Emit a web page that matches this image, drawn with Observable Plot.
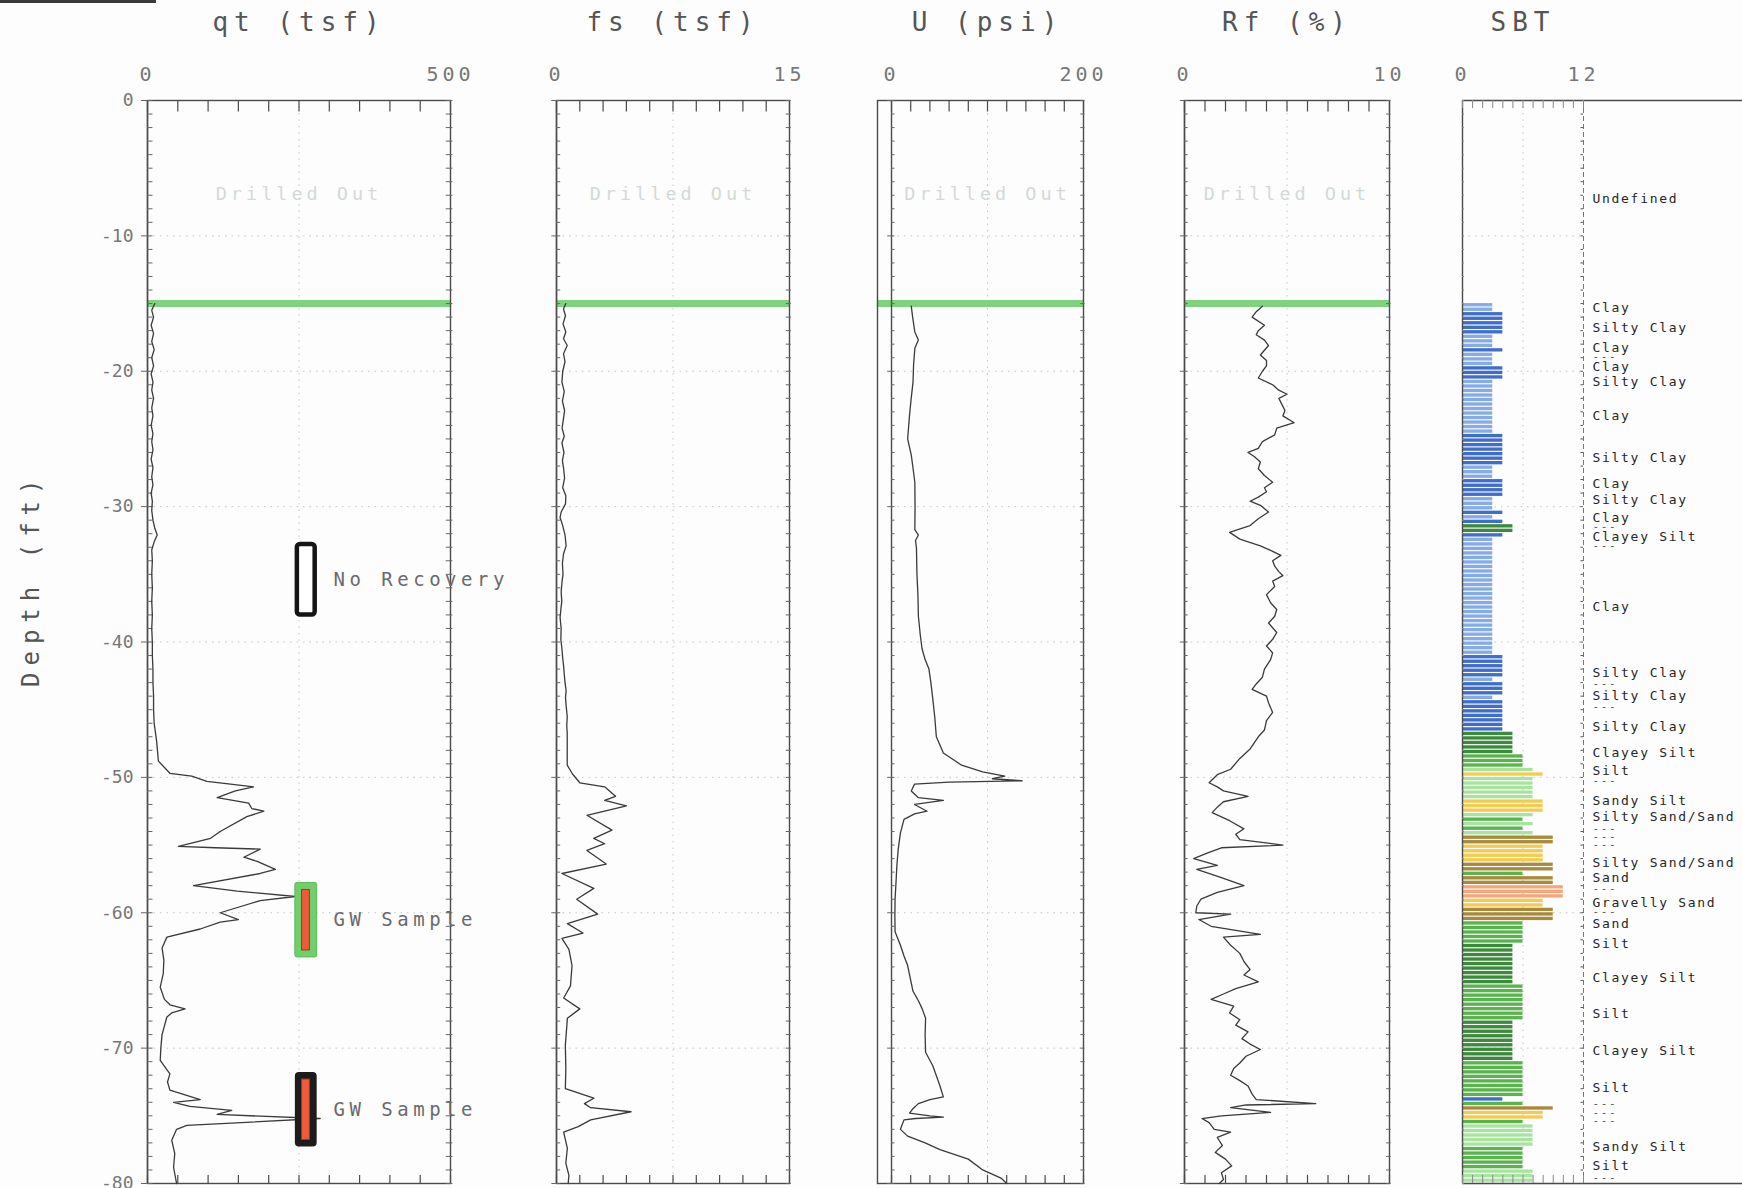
<!DOCTYPE html>
<html>
<head>
<meta charset="utf-8">
<script src="https://cdn.jsdelivr.net/npm/d3@7"></script>
<script src="https://cdn.jsdelivr.net/npm/@observablehq/plot@0.6"></script>
<style>
html,body{margin:0;padding:0;overflow:hidden;background:#fdfdfd;}
#chart{position:relative;width:1742px;height:1188px;overflow:hidden;background:#fdfdfd;}
#chart svg{position:absolute;left:0;top:0;}
#corner{position:absolute;left:0;top:0;width:156px;height:3px;background:#3a3a3a;}
</style>
</head>
<body>
<div id="chart"><div id="corner"></div></div>
<script>
// ---------------- DATA ----------------
// [depth (ft), value]
const qtProfile = [
  [-15,12],[-15.5,7],[-16,10],[-16.6,6],[-17.2,10],[-17.8,7],[-18.4,11],[-19,7],[-19.6,10],[-20.2,6],
  [-20.8,9],[-21.4,7],[-22,10],[-22.7,7],[-23.3,9],[-24,6],[-24.6,9],[-25.2,7],[-25.8,9],[-26.5,6],
  [-27.1,9],[-27.8,7],[-28.4,9],[-29,6],[-29.6,8],[-30.3,7],[-31,9],[-31.6,12],[-32.1,16],[-32.6,11],
  [-33.2,7],[-34,8],[-35,7],[-36,8],[-37,7],[-38,8],[-39,7],[-40,8],[-41,8],[-42,9],[-43,9],[-44,10],
  [-45,10],[-46,11],[-47.3,15],[-48.8,18],[-49.7,37],[-49.9,73],[-50.3,98],[-50.5,137],[-50.7,175],
  [-51.0,145],[-51.5,115],[-51.9,167],[-52.3,172],[-52.5,192],[-52.9,164],[-54.0,120],[-54.5,104],
  [-55.1,51],[-55.2,112],[-55.3,186],[-55.9,159],[-56.2,181],[-56.8,211],[-57.1,186],[-58.0,76],
  [-58.4,148],[-58.8,244],[-59.1,186],[-60.0,120],[-60.5,150],[-60.7,120],[-61.2,87],[-61.8,32],
  [-62.6,24],[-63.5,27],[-64.5,26],[-65.5,21],[-66.4,28],[-66.8,37],[-67.1,62],[-67.4,40],[-67.7,32],
  [-69.0,24],[-70.0,22],[-70.9,21],[-71.9,37],[-72.5,33],[-73.1,37],[-73.8,87],[-74.0,43],[-74.3,70],
  [-74.6,139],[-74.9,115],[-75.2,285],[-75.7,65],[-76.0,48],[-76.8,40],[-77.8,45],[-78.8,43],[-80,48]
];
const fsProfile = [
  [-15.0,0.6],[-15.4,0.45],[-15.9,0.58],[-16.5,0.42],[-17.1,0.6],[-17.6,0.45],[-18.1,0.69],[-18.7,0.45],
  [-19.3,0.55],[-20.0,0.4],[-20.8,0.35],[-21.5,0.5],[-22.2,0.38],[-22.9,0.52],[-23.5,0.45],[-24.2,0.36],
  [-24.8,0.5],[-25.3,0.35],[-26.0,0.48],[-26.6,0.38],[-27.2,0.46],[-27.9,0.52],[-28.6,0.4],[-29.2,0.6],
  [-29.8,0.58],[-30.4,0.3],[-30.8,0.23],[-31.4,0.4],[-32.1,0.55],[-32.9,0.62],[-33.5,0.45],[-34.2,0.38],
  [-35.0,0.42],[-35.6,0.35],[-36.3,0.3],[-37.0,0.34],[-37.6,0.28],[-38.2,0.23],[-39.0,0.3],[-39.8,0.28],
  [-40.5,0.35],[-41.2,0.4],[-41.8,0.46],[-42.4,0.5],[-43.0,0.55],[-43.6,0.62],[-44.1,0.58],[-44.7,0.62],
  [-45.5,0.69],[-46.2,0.66],[-46.7,0.69],[-49.1,0.69],[-49.75,1.03],[-50.4,1.5],[-50.7,3.1],[-51.4,3.8],
  [-51.7,3.1],[-52.1,4.5],[-52.8,1.96],[-53.9,3.57],[-54.5,2.4],[-54.9,3.1],[-55.4,1.96],[-56.4,3.2],
  [-57.1,0.35],[-58.2,2.4],[-59.0,1.3],[-60.1,2.65],[-60.8,0.7],[-61.5,1.7],[-61.9,0.35],[-62.7,0.8],
  [-63.9,1.0],[-65.4,0.9],[-66.3,0.46],[-67.1,1.5],[-67.8,0.7],[-69.8,0.57],[-71.5,0.6],[-73.0,0.57],
  [-73.7,2.4],[-74.1,1.8],[-74.4,2.2],[-74.7,4.8],[-75.3,2.2],[-75.8,1.4],[-76.2,0.46],[-77.4,0.7],
  [-78.5,0.6],[-79.4,0.8],[-80,0.75]
];
const uProfile = [
  [-15.2,20.6],[-16.0,22],[-17.1,24.3],[-17.7,28],[-18.3,24.3],[-19.5,23],[-20.8,22.4],[-22,20.5],
  [-23.3,18.7],[-25.0,16.8],[-26.2,20.6],[-27.2,22.5],[-28.2,24.3],[-30,24.5],[-31.7,24.3],[-32.1,28],
  [-32.5,25],[-33.1,26],[-35,26.5],[-36.5,27.5],[-38.1,28],[-39.5,30],[-40.5,31.8],[-41.3,35],[-42.0,39],
  [-43,41],[-44.2,43],[-45.5,45],[-47.0,46.7],[-48.2,54],[-49.1,73],[-49.6,95],[-49.9,118],[-50.1,105],
  [-50.25,136],[-50.35,60],[-50.5,24],[-51.0,20.6],[-51.5,28],[-51.7,54],[-52.0,24],[-52.5,37],[-52.7,24],
  [-53.1,13],[-54.1,9.3],[-55.3,7],[-56.5,5.6],[-58,4.5],[-59.0,3.7],[-60.2,3.5],[-61.4,3.7],[-62.4,9.3],
  [-63.2,13],[-63.9,16.8],[-65.0,20],[-65.8,22.4],[-66.5,28],[-67.1,32],[-67.8,35.5],[-69,35],[-70.3,35.5],
  [-71.3,43],[-72.1,47],[-72.8,50.5],[-73.6,54],[-73.8,40],[-74.1,28],[-74.5,22],[-74.8,18.7],[-75.0,40],
  [-75.1,54],[-75.2,25],[-75.3,13],[-76.0,9.3],[-76.5,16.8],[-77.0,35],[-77.5,50.5],[-78.2,80],[-79.0,95],
  [-79.6,114],[-80,120]
];
const rfProfile = [
  [-15.2,3.8],[-15.6,3.5],[-16.0,3.3],[-16.6,3.9],[-17.0,3.6],[-17.3,3.5],[-17.7,3.9],[-18.1,4.1],[-18.8,3.7],
  [-19.2,4.0],[-19.6,4.0],[-20.0,3.8],[-20.5,3.6],[-21.0,4.3],[-21.4,4.6],[-21.7,5.0],[-22.0,4.6],[-22.3,4.7],
  [-22.9,4.9],[-23.3,4.8],[-23.8,5.35],[-24.2,4.5],[-24.7,4.4],[-25.2,3.8],[-25.7,3.6],[-26.0,3.1],[-26.3,3.4],
  [-26.7,3.7],[-27.2,3.6],[-27.7,3.9],[-28.2,4.3],[-28.6,3.9],[-28.9,4.0],[-29.3,3.6],[-29.6,3.2],[-29.9,3.7],
  [-30.4,4.1],[-30.9,3.6],[-31.4,3.2],[-31.7,2.6],[-31.9,2.2],[-32.2,2.5],[-32.4,2.7],[-32.9,3.7],[-33.3,4.3],
  [-33.6,4.7],[-34.0,4.3],[-34.4,4.4],[-34.8,4.6],[-35.1,4.8],[-35.5,4.3],[-35.9,4.4],[-36.5,4.0],[-37.1,4.2],
  [-37.6,4.5],[-38.1,4.4],[-38.6,4.1],[-39.3,4.5],[-39.8,4.3],[-40.3,4.0],[-40.8,4.3],[-41.3,4.2],[-42.0,3.9],
  [-42.6,3.8],[-43.1,3.5],[-43.5,3.3],[-44.0,4.0],[-44.5,4.1],[-45.2,4.3],[-45.8,4.0],[-46.5,3.9],[-47.0,3.6],
  [-47.9,3.2],[-48.6,2.7],[-49.4,2.25],[-49.8,1.6],[-50.4,1.2],[-50.7,1.6],[-51.0,1.9],[-51.4,3.1],[-51.8,1.9],
  [-52.2,1.6],[-52.6,1.35],[-53.2,2.2],[-53.8,2.9],[-54.2,2.5],[-54.6,2.7],[-55.0,4.8],[-55.2,1.8],[-55.6,1.1],
  [-56.0,0.45],[-56.5,1.6],[-56.8,0.6],[-57.4,1.8],[-58.0,2.9],[-58.5,1.6],[-59.0,0.8],[-59.5,0.6],[-60.0,0.55],
  [-60.1,2.25],[-60.5,0.7],[-61.0,1.3],[-61.6,3.7],[-61.8,1.9],[-62.4,2.25],[-63.0,2.7],[-63.6,2.9],[-64.2,3.2],
  [-64.6,2.9],[-65.1,3.6],[-65.6,2.5],[-66.0,1.9],[-66.4,1.3],[-66.9,2.4],[-67.4,2.2],[-67.9,2.7],[-68.3,2.5],
  [-68.8,3.1],[-69.3,2.8],[-69.7,3.2],[-70.1,3.7],[-70.6,3.0],[-71.1,2.7],[-71.5,2.4],[-72.0,2.25],[-72.4,2.7],
  [-72.8,3.1],[-73.4,3.3],[-73.8,3.5],[-74.1,6.4],[-74.2,3.0],[-74.4,2.25],[-74.75,4.2],[-75.0,1.8],[-75.2,0.85],
  [-75.5,1.2],[-76.0,1.45],[-76.2,2.25],[-76.6,1.6],[-77.2,1.85],[-77.7,1.5],[-78.2,2.0],[-78.7,2.3],[-79.2,1.8],
  [-79.7,1.9],[-80,1.7]
];

// SBT zone per sample, from -15 ft downward, one sample every 1/3 ft
const sbtFirstDepth = -15;
const sbtStep = 1 / 3;
const sbtZones = [
  3,3, 4,4,4,4,4, 3,3,3, 4, 3,3,3, 4,4,4,
  3,3,3,3,3,3,3,3,3,3,3,3, 4,4,4,4,4,4,4, 3,3,3, 4,4,4,4, 3,3,3, 4, 3, 4, 5,5, 4,
  3,3,3,3,3,3,3,3,3,3,3,3,3,3,3,3,3,3,3,3,3,3,3,3,3,3,
  4,4,4,4,4, 3, 4,4,4, 3, 4,4,4,4,4,4,4,
  5,5,5,5,5, 6,6,6, 7, 8, 7,7,7,7,7, 8,8,8, 7,6,7,6,7,
  9,9, 8,8,8,8, 9,9, 6, 9,9, 10,10,10, 8,8, 9,9,9,
  6,6,6,6,6, 5,5,5,5,5,5,5,5,5, 6,6,6,6,6,6,6,6, 5,5,5,5,5,5,5,5,5, 6,6,6,6,6,6,6,6,
  4, 6, 9, 8,8, 6, 7,7,7,7,7, 6,6,6,6,6, 7,7,7
];
const zoneCodes = [3, 4, 5, 6, 7, 8, 9, 10];
const zoneColors = ["#85abe8", "#3f6dcc", "#3c8a3c", "#5ab44d", "#a8e4a0", "#f4cb52", "#a88a3c", "#f5a67c"];

const sbtLabels = [
  {depth: -7.3, name: "Undefined"},
  {depth: -15.3, name: "Clay"},
  {depth: -16.8, name: "Silty Clay"},
  {depth: -18.3, name: "Clay"},
  {depth: -19.0, name: "---"},
  {depth: -19.7, name: "Clay"},
  {depth: -20.8, name: "Silty Clay"},
  {depth: -23.3, name: "Clay"},
  {depth: -26.4, name: "Silty Clay"},
  {depth: -28.3, name: "Clay"},
  {depth: -29.5, name: "Silty Clay"},
  {depth: -30.8, name: "Clay"},
  {depth: -31.5, name: "---"},
  {depth: -32.2, name: "Clayey Silt"},
  {depth: -32.9, name: "---"},
  {depth: -37.4, name: "Clay"},
  {depth: -42.3, name: "Silty Clay"},
  {depth: -43.1, name: "---"},
  {depth: -44.0, name: "Silty Clay"},
  {depth: -44.8, name: "---"},
  {depth: -46.3, name: "Silty Clay"},
  {depth: -48.2, name: "Clayey Silt"},
  {depth: -49.5, name: "Silt"},
  {depth: -50.3, name: "---"},
  {depth: -51.7, name: "Sandy Silt"},
  {depth: -52.9, name: "Silty Sand/Sand"},
  {depth: -54.45, name: "---\n---\n---"},
  {depth: -56.3, name: "Silty Sand/Sand"},
  {depth: -57.4, name: "Sand"},
  {depth: -58.3, name: "---"},
  {depth: -59.3, name: "Gravelly Sand"},
  {depth: -60.0, name: "---"},
  {depth: -60.8, name: "Sand"},
  {depth: -62.3, name: "Silt"},
  {depth: -64.8, name: "Clayey Silt"},
  {depth: -67.5, name: "Silt"},
  {depth: -70.2, name: "Clayey Silt"},
  {depth: -72.9, name: "Silt"},
  {depth: -74.8, name: "---\n---\n---"},
  {depth: -77.3, name: "Sandy Silt"},
  {depth: -78.7, name: "Silt"},
  {depth: -79.6, name: "---"}
];

const noRecovery = [{top: -32.8, bottom: -38.0, label: "No Recovery"}];
const gwSamples = [
  {top: -57.8, bottom: -63.3, label: "GW Sample"},
  {top: -71.8, bottom: -77.3, label: "GW Sample"}
];
const predrillDepth = -15;
const depthTickLabels = [0, -10, -20, -30, -40, -50, -60, -70, -80];

// ---------------- LAYOUT ----------------
const W = 1742, H = 1188, MT = 100, MB = 5;
const FONT = "'DejaVu Sans Mono', monospace";
const FRAME = "#4a4a4a", GRID = "#c6c6c6", LINE = "#3a3a3a", GREEN = "#7fd37f";
// font sizes double as hooks for letter spacing
const FS_TITLE = 26, FS_XTICK = 20, FS_YTICK = 18, FS_DRILL = 18.5, FS_NOTE = 19, FS_DEPTH = 24, FS_SBT = 13, FS_DASH = 11;
const spacing = {[FS_TITLE]: "6px", [FS_XTICK]: "4px", [FS_YTICK]: "0px", [FS_DRILL]: "4px", [FS_NOTE]: "4.5px", [FS_DEPTH]: "7px", [FS_SBT]: "1.7px", [FS_DASH]: "1.6px"};

const footTicks = d3.range(0, -80.5, -1);
const gridDepths = d3.range(-10, -79, -10);
const fmt = d => (d < 0 ? "-" + Math.abs(d) : String(d));

function profileMarks({min, axisAt, max, step, series, title}) {
  const span = max - axisAt;
  const mid = (axisAt + max) / 2;
  const ticks = d3.range(axisAt, max + step / 2, step);
  return [
    Plot.ruleY(gridDepths, {x1: axisAt, x2: max, stroke: GRID, strokeDasharray: "1.5,5"}),
    Plot.ruleX([mid], {y1: 0, y2: -80, stroke: GRID, strokeDasharray: "1.5,5"}),
    Plot.text(["Drilled Out"], {x: mid, y: -6.9, text: d => d, fill: "#d3dad6", fontSize: FS_DRILL}),
    Plot.ruleY([predrillDepth], {x1: min, x2: max, stroke: GREEN, strokeWidth: 7}),
    Plot.frame({stroke: FRAME, strokeWidth: 1.4}),
    Plot.ruleX([axisAt], {y1: 0, y2: -80, stroke: FRAME, strokeWidth: 1.4}),
    Plot.ruleX(ticks, {y1: 0, y2: -0.85, stroke: FRAME, strokeWidth: 1.2}),
    Plot.ruleX(ticks, {y1: -80, y2: -79.4, stroke: FRAME, strokeWidth: 1.2}),
    Plot.ruleY(footTicks, {x1: axisAt, x2: axisAt + span * 0.018, stroke: "#666"}),
    Plot.ruleY(depthTickLabels, {x1: axisAt - span * 0.02, x2: axisAt, stroke: "#666"}),
    Plot.ruleY(footTicks, {x1: max - span * 0.014, x2: max + span * 0.008, stroke: "#666"}),
    Plot.line(series, {x: d => d[1], y: d => d[0], stroke: LINE, strokeWidth: 1.3}),
    Plot.axisX({anchor: "top", ticks: [axisAt, max], tickSize: 0, tickPadding: 20, fontSize: FS_XTICK, tickFormat: fmt, label: null, fill: "#777"}),
    Plot.text([title], {x: mid, frameAnchor: "top", lineAnchor: "middle", dy: -78, text: d => d, fontSize: FS_TITLE, fill: "#555"})
  ];
}

function makePlot(left, right, xDomain, marks, extra = {}) {
  return Plot.plot({
    width: W, height: H,
    marginLeft: left, marginRight: W - right, marginTop: MT, marginBottom: MB,
    x: {domain: xDomain},
    y: {domain: [-80, 0], ...(extra.yAxis ? {} : {axis: null})},
    color: extra.color,
    style: {background: "transparent", fontFamily: FONT, color: "#777", overflow: "visible"},
    marks
  });
}

const chart = document.getElementById("chart");

// qt panel
const colX1 = 244, colX2 = 280, redX1 = 255, redX2 = 268;
chart.appendChild(makePlot(147, 450, [0, 500], [
  ...profileMarks({min: 0, axisAt: 0, max: 500, step: 50, series: qtProfile, title: "qt (tsf)"}),
  Plot.rect(noRecovery, {x1: colX1, x2: colX2, y1: "top", y2: "bottom", fill: "#fff", stroke: "#151515", strokeWidth: 4.5, rx: 3, insetLeft: 2, insetRight: 2}),
  Plot.rect(gwSamples.slice(0, 1), {x1: colX1, x2: colX2, y1: "top", y2: "bottom", fill: "#6fcf6a", stroke: "#5fb85a", rx: 2}),
  Plot.rect(gwSamples.slice(1), {x1: colX1, x2: colX2, y1: "top", y2: "bottom", fill: "#1c1c1c", rx: 4}),
  Plot.rect(gwSamples, {x1: redX1, x2: redX2, y1: "top", y2: "bottom", insetTop: 7, insetBottom: 7, fill: "#ee5a3c", stroke: "#9a3a2a", strokeWidth: 1}),
  Plot.text([...noRecovery, ...gwSamples], {x: 307, y: d => (d.top + d.bottom) / 2, text: "label", textAnchor: "start", fontSize: FS_NOTE, fill: "#6a6a6a"}),
  Plot.axisY({anchor: "left", ticks: depthTickLabels, tickSize: 0, tickPadding: 14, fontSize: FS_YTICK, tickFormat: fmt, label: null, fill: "#777"}),
  Plot.text(["Depth (ft)"], {frameAnchor: "left", y: -35.4, dx: -116, rotate: -90, textAnchor: "middle", lineAnchor: "middle", text: d => d, fontSize: FS_DEPTH, fill: "#555"})
], {yAxis: true}));

// fs panel
chart.appendChild(makePlot(556, 789, [0, 15],
  profileMarks({min: 0, axisAt: 0, max: 15, step: 1.5, series: fsProfile, title: "fs (tsf)"})));

// U panel (outer frame starts a little left of the zero line)
chart.appendChild(makePlot(877, 1083, [-14.6, 200],
  profileMarks({min: -14.6, axisAt: 0, max: 200, step: 20, series: uProfile, title: "U (psi)"})));

// Rf panel
chart.appendChild(makePlot(1184, 1389, [0, 10],
  profileMarks({min: 0, axisAt: 0, max: 10, step: 1, series: rfProfile, title: "Rf (%)"})));

// SBT panel
const sbtLeft = 1462, sbtRight12 = 1583;
const sbtMax = 12 * (W - sbtLeft) / (sbtRight12 - sbtLeft);
const sbtBars = sbtZones.map((zone, i) => ({
  zone,
  top: sbtFirstDepth - i * sbtStep,
  bottom: sbtFirstDepth - (i + 0.74) * sbtStep
}));
const sbtTicks = d3.range(0, 12.5, 1);
const isDash = d => d.name.startsWith("---");
chart.appendChild(makePlot(sbtLeft, W, [0, sbtMax], [
  Plot.ruleY(gridDepths, {x1: 0, x2: 12, stroke: GRID, strokeDasharray: "1.5,5"}),
  Plot.ruleX([6], {y1: 0, y2: -80, stroke: GRID, strokeDasharray: "1.5,5"}),
  Plot.rect(sbtBars, {x1: 0, x2: "zone", y1: "top", y2: "bottom", fill: "zone", insetLeft: 1}),
  Plot.ruleY([0, -80], {x1: 0, x2: sbtMax, stroke: FRAME, strokeWidth: 1.4}),
  Plot.ruleX([0], {y1: 0, y2: -80, stroke: FRAME, strokeWidth: 1.4}),
  Plot.ruleX([12], {y1: 0, y2: -80, stroke: "#777", strokeDasharray: "5,3"}),
  Plot.ruleX(sbtTicks, {y1: 0, y2: -0.6, stroke: "#888"}),
  Plot.ruleX(sbtTicks, {y1: -80, y2: -79.4, stroke: "#888"}),
  Plot.ruleY(footTicks, {x1: 11.75, x2: 12, stroke: "#555"}),
  Plot.ruleY(footTicks, {x1: 0, x2: 0.2, stroke: "#888"}),
  Plot.text(sbtLabels.filter(d => !isDash(d)), {x: 12, dx: 9, y: "depth", text: "name", textAnchor: "start", fontSize: FS_SBT, fill: "#262626"}),
  Plot.text(sbtLabels.filter(isDash), {x: 12, dx: 9, y: "depth", text: "name", textAnchor: "start", fontSize: FS_DASH, lineHeight: 0.75, fill: "#555"}),
  Plot.axisX({anchor: "top", ticks: [0, 12], tickSize: 0, tickPadding: 20, fontSize: FS_XTICK, tickFormat: fmt, label: null, fill: "#777"}),
  Plot.text(["SBT"], {x: 6, frameAnchor: "top", lineAnchor: "middle", dy: -78, text: d => d, fontSize: FS_TITLE, fill: "#555"})
], {color: {type: "ordinal", domain: zoneCodes, range: zoneColors}}));

// letter spacing for the plotter-style lettering
chart.querySelectorAll("g[font-size]").forEach(g => {
  const s = spacing[g.getAttribute("font-size")];
  if (s) g.style.letterSpacing = s;
});
</script>
</body>
</html>
